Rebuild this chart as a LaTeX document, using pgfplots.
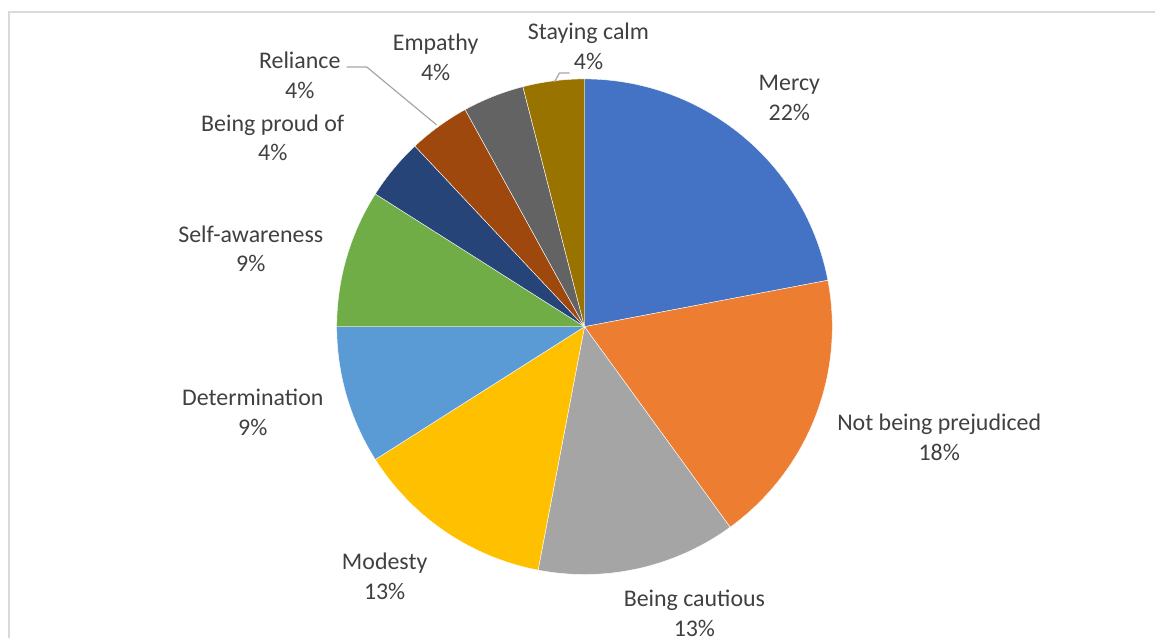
\documentclass[border=0pt]{standalone}
\usepackage{fontspec}
\setmainfont{Carlito}
\usepackage{pgfplots}
\pgfplotsset{compat=1.18}

\definecolor{cMercy}{HTML}{4472C4}
\definecolor{cPrej}{HTML}{ED7D31}
\definecolor{cCaut}{HTML}{A5A5A5}
\definecolor{cMod}{HTML}{FFC000}
\definecolor{cDet}{HTML}{5B9BD5}
\definecolor{cSelf}{HTML}{70AD47}
\definecolor{cProud}{HTML}{264478}
\definecolor{cRel}{HTML}{9E480E}
\definecolor{cEmp}{HTML}{636363}
\definecolor{cCalm}{HTML}{997300}
\definecolor{lbl}{HTML}{404040}

% slice: #1 = percent before this slice, #2 = its percent, #3 = colour
\newcommand\slice[3]{%
  \pgfmathsetmacro\aEnd{90-3.6*#1}%
  \pgfmathsetmacro\aStart{90-3.6*(#1+#2)}%
  \addplot[fill=#3, draw=white, line width=0.2pt, data cs=polar,
    domain=\aStart:\aEnd, samples=60] {248} -- (axis cs:0,0) -- cycle;
}

\begin{document}
\begin{tikzpicture}[lab/.style={font=\fontsize{12}{15}\selectfont, text=lbl, align=center, inner sep=0pt}]
\begin{axis}[
    scale only axis,
    width=578bp, height=319.5bp,
    xmin=-585, xmax=571, ymin=-312, ymax=327,
    hide axis,
    clip=false,
]
\slice{0}{22}{cMercy}
\slice{22}{18}{cPrej}
\slice{40}{13}{cCaut}
\slice{53}{13}{cMod}
\slice{66}{9}{cDet}
\slice{75}{9}{cSelf}
\slice{84}{4}{cProud}
\slice{88}{4}{cRel}
\slice{92}{4}{cEmp}
\slice{96}{4}{cCalm}

\node[lab] at (axis cs:205,229) {Mercy\\22\%};
\node[lab] at (axis cs:355,-111) {Not being prejudiced\\18\%};
\node[lab] at (axis cs:110,-287) {Being cautious\\13\%};
\node[lab] at (axis cs:-200,-250) {Modesty\\13\%};
\node[lab] at (axis cs:-332,-86) {Determination\\9\%};
\node[lab] at (axis cs:-334,78) {Self-awareness\\9\%};
\node[lab] at (axis cs:-312,189) {Being proud of\\4\%};
\node[lab] at (axis cs:-285,252) {Reliance\\4\%};
\node[lab] at (axis cs:-149,270) {Empathy\\4\%};
\node[lab] at (axis cs:4,281) {Staying calm\\4\%};

\draw[color=black!35, line width=0.6pt] (axis cs:-238,260) -- (axis cs:-218,260) -- (axis cs:-148,202);
\draw[color=black!35, line width=0.6pt] (axis cs:-30,245) -- (axis cs:-25,254) -- (axis cs:-15,254);

\draw[color=black!15, line width=1bp] (axis cs:-576,-312) -- (axis cs:-576,315) -- (axis cs:571,315);
\end{axis}
\path (current axis.south west) rectangle (current axis.north east);
\end{tikzpicture}
\end{document}
